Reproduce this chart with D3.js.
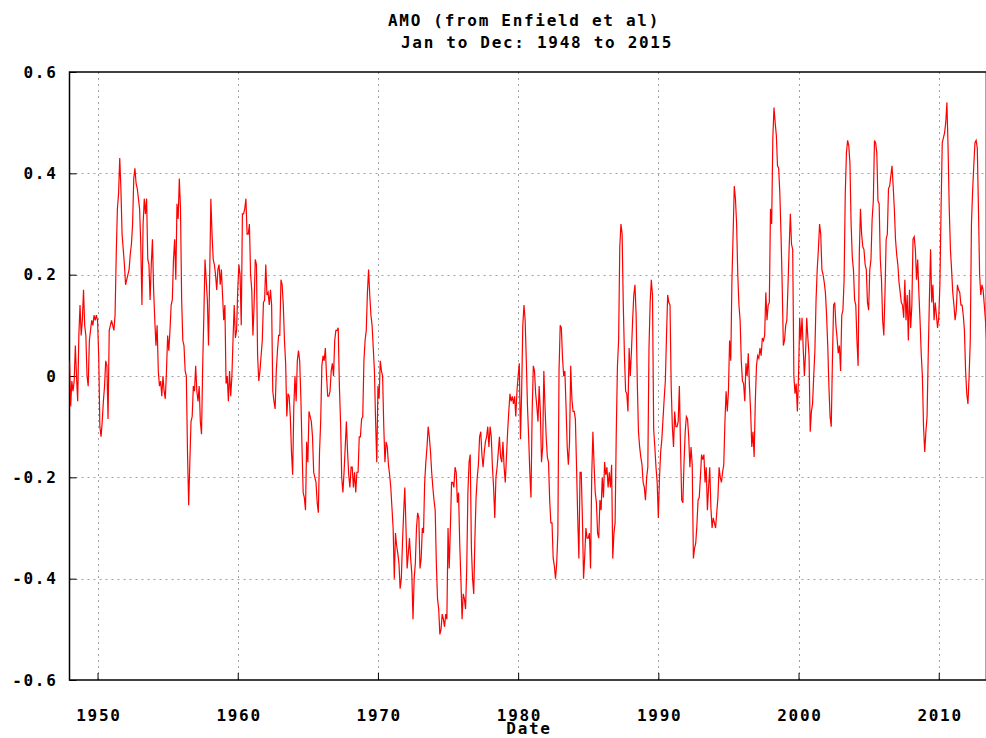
<!DOCTYPE html>
<html>
<head>
<meta charset="utf-8">
<script src="https://cdn.jsdelivr.net/npm/d3@7"></script>
<style>
  html, body { margin: 0; padding: 0; background: #fff; }
  svg { display: block; }
  text { font-family: "DejaVu Sans Mono", "Liberation Mono", monospace; font-weight: bold; fill: #000; }
</style>
</head>
<body>
<svg id="chart" width="986" height="738"></svg>
<script>
// ---------------- DATA ----------------
const titleLines = ["AMO (from Enfield et al)", "Jan to Dec: 1948 to 2015"];
const xLabel = "Date";
const startYear = 1948;
const xTicks = [1950, 1960, 1970, 1980, 1990, 2000, 2010];
const yTicks = [-0.6, -0.4, -0.2, 0, 0.2, 0.4, 0.6];
const yTickLabels = ["-0.6", "-0.4", "-0.2", "0", "0.2", "0.4", "0.6"];

// monthly AMO values, Jan 1948 onward, one decade per array
const amo1940s = [
  0.03, -0.06, -0.01, -0.03, -0.01, 0.06, 0.0, -0.05, 0.08, 0.14, 0.08, 0.11,
  0.17, 0.10, 0.08, 0.0, -0.02, 0.07, 0.09, 0.11, 0.10, 0.12, 0.11, 0.12
];
const amo1950s = [
  0.11, 0.04, -0.10, -0.12, -0.09, -0.05, -0.02, 0.03, 0.02, -0.085, 0.09, 0.10,
  0.11, 0.10, 0.09, 0.12, 0.24, 0.33, 0.36, 0.43, 0.37, 0.28, 0.25, 0.22,
  0.18, 0.19, 0.20, 0.21, 0.24, 0.26, 0.30, 0.39, 0.41, 0.38, 0.37, 0.35,
  0.33, 0.26, 0.14, 0.30, 0.35, 0.32, 0.35, 0.23, 0.22, 0.15, 0.22, 0.27,
  0.17, 0.11, 0.06, 0.10, 0.01, -0.02, -0.01, -0.04, 0.0, -0.03, -0.045, 0.01,
  0.08, 0.05, 0.09, 0.14, 0.15, 0.23, 0.27, 0.19, 0.34, 0.31, 0.39, 0.33,
  0.15, 0.07, 0.06, 0.01, 0.0, -0.15, -0.255, -0.17, -0.09, -0.08, -0.02, -0.03,
  0.02, -0.03, -0.05, -0.02, -0.09, -0.115, 0.02, 0.12, 0.23, 0.19, 0.15, 0.06,
  0.20, 0.35, 0.28, 0.23, 0.22, 0.20, 0.17, 0.21, 0.22, 0.18, 0.21, 0.16,
  0.11, 0.14, -0.015, 0.0, -0.05, 0.01, -0.04, 0.0, 0.075, 0.14, 0.075, 0.09
];
const amo1960s = [
  0.17, 0.22, 0.20, 0.10, 0.32, 0.32, 0.33, 0.35, 0.28, 0.28, 0.30, 0.20,
  0.17, 0.08, 0.14, 0.23, 0.22, 0.04, -0.01, 0.01, 0.04, 0.07, 0.145, 0.15,
  0.22, 0.16, 0.165, 0.14, 0.17, 0.14, -0.03, -0.05, -0.065, 0.01, 0.05, 0.08,
  0.08, 0.19, 0.18, 0.14, 0.07, 0.025, -0.08, -0.035, -0.04, -0.08, -0.15, -0.195,
  -0.06, 0.0, -0.05, 0.03, 0.05, 0.03, -0.04, -0.14, -0.23, -0.24, -0.265, -0.13,
  -0.17, -0.07, -0.08, -0.09, -0.12, -0.19, -0.20, -0.21, -0.25, -0.27, -0.15, -0.09,
  0.02, 0.04, 0.03, 0.055, 0.0, -0.04, -0.04, -0.03, 0.01, 0.025, 0.0, 0.07,
  0.09, 0.09, 0.095, -0.02, -0.09, -0.20, -0.23, -0.19, -0.14, -0.09, -0.15, -0.195,
  -0.22, -0.18, -0.18, -0.22, -0.19, -0.23, -0.19, -0.19, -0.12, -0.12, -0.085, -0.08,
  0.03, 0.07, 0.09, 0.165, 0.21, 0.16, 0.12, 0.10, 0.055, 0.01, -0.09, -0.17
];
const amo1970s = [
  -0.02, -0.045, 0.03, 0.01, 0.0, -0.10, -0.17, -0.13, -0.14, -0.175, -0.195, -0.22,
  -0.26, -0.30, -0.40, -0.31, -0.335, -0.35, -0.37, -0.42, -0.40, -0.33, -0.27, -0.22,
  -0.30, -0.38, -0.35, -0.32, -0.36, -0.39, -0.48, -0.40, -0.37, -0.30, -0.27, -0.28,
  -0.38, -0.36, -0.30, -0.31, -0.21, -0.17, -0.14, -0.10, -0.12, -0.15, -0.19, -0.22,
  -0.245, -0.265, -0.37, -0.44, -0.46, -0.51, -0.50, -0.47, -0.48, -0.495, -0.47, -0.48,
  -0.30, -0.38, -0.30, -0.21, -0.21, -0.22, -0.18, -0.19, -0.25, -0.23, -0.33, -0.40,
  -0.48, -0.43, -0.44, -0.46, -0.38, -0.23, -0.17, -0.155, -0.34, -0.40, -0.43, -0.32,
  -0.24, -0.20, -0.175, -0.12, -0.11, -0.155, -0.18, -0.15, -0.13, -0.12, -0.10, -0.14,
  -0.10, -0.12, -0.18, -0.22, -0.28, -0.20, -0.18, -0.15, -0.12, -0.16, -0.17, -0.13,
  -0.18, -0.21, -0.16, -0.11, -0.07, -0.035, -0.05, -0.04, -0.055, -0.04, -0.08, -0.03
];
const amo1980s = [
  0.0, 0.025, -0.125, -0.03, 0.10, 0.14, 0.11, 0.03, -0.06, -0.12, -0.19, -0.24,
  -0.07, 0.02, 0.01, -0.035, -0.06, -0.09, -0.02, -0.07, -0.17, -0.14, 0.01, -0.06,
  -0.12, -0.16, -0.17, -0.245, -0.29, -0.29, -0.36, -0.375, -0.40, -0.37, -0.31, 0.01,
  0.10, 0.095, 0.035, 0.0, 0.01, -0.06, -0.14, -0.175, -0.13, 0.02, -0.045, -0.07,
  -0.07, -0.085, -0.18, -0.28, -0.36, -0.19, -0.19, -0.28, -0.40, -0.355, -0.30, -0.32,
  -0.32, -0.31, -0.38, -0.195, -0.11, -0.175, -0.23, -0.25, -0.31, -0.32, -0.245, -0.265,
  -0.20, -0.24, -0.17, -0.195, -0.18, -0.22, -0.19, -0.22, -0.175, -0.36, -0.31, -0.29,
  -0.11, 0.02, 0.07, 0.255, 0.30, 0.28, 0.14, 0.04, -0.03, -0.035, -0.07, 0.055,
  0.0, 0.05, 0.11, 0.16, 0.18, 0.12, -0.015, -0.11, -0.14, -0.16, -0.175, -0.21,
  -0.22, -0.245, -0.20, -0.18, 0.055, 0.145, 0.19, 0.16, -0.105, -0.14, -0.18, -0.21
];
const amo1990s = [
  -0.28, -0.20, -0.15, -0.125, -0.085, -0.045, -0.01, 0.08, 0.16, 0.145, 0.14, -0.02,
  -0.10, -0.14, -0.07, -0.10, -0.10, -0.09, -0.02, -0.14, -0.245, -0.25, -0.17, -0.11,
  -0.08, -0.085, -0.12, -0.18, -0.14, -0.175, -0.36, -0.34, -0.33, -0.295, -0.245, -0.24,
  -0.20, -0.155, -0.165, -0.155, -0.21, -0.18, -0.265, -0.22, -0.18, -0.26, -0.30, -0.28,
  -0.29, -0.30, -0.27, -0.24, -0.18, -0.20, -0.21, -0.19, -0.175, -0.09, -0.03, -0.07,
  -0.03, 0.07, 0.03, 0.19, 0.28, 0.375, 0.35, 0.30, 0.20, 0.14, 0.11, 0.03,
  -0.01, -0.015, -0.05, 0.025, 0.0, 0.045, -0.02, -0.07, -0.14, -0.11, -0.16, -0.05,
  0.02, 0.04, 0.035, 0.055, 0.04, 0.075, 0.07, 0.08, 0.165, 0.11, 0.14, 0.145,
  0.33, 0.30, 0.47, 0.53, 0.50, 0.475, 0.415, 0.41, 0.36, 0.28, 0.18, 0.06,
  0.07, 0.10, 0.11, 0.18, 0.255, 0.32, 0.26, 0.25, 0.0, -0.035, -0.015, -0.07
];
const amo2000s = [
  0.0, 0.115, 0.07, 0.115, 0.055, 0.0, 0.045, 0.115, 0.075, 0.04, -0.11, -0.07,
  -0.055, 0.0, 0.05, 0.15, 0.21, 0.25, 0.30, 0.28, 0.21, 0.20, 0.185, 0.165,
  0.12, 0.06, -0.02, -0.08, -0.10, 0.03, 0.14, 0.145, 0.10, 0.075, 0.045, 0.06,
  0.01, 0.12, 0.13, 0.19, 0.36, 0.44, 0.465, 0.455, 0.42, 0.30, 0.235, 0.21,
  0.15, 0.14, 0.07, 0.02, 0.24, 0.33, 0.28, 0.255, 0.25, 0.22, 0.21, 0.145,
  0.13, 0.21, 0.23, 0.31, 0.345, 0.465, 0.46, 0.44, 0.345, 0.34, 0.23, 0.19,
  0.11, 0.08, 0.165, 0.27, 0.28, 0.37, 0.375, 0.395, 0.415, 0.375, 0.33, 0.27,
  0.24, 0.22, 0.185, 0.165, 0.145, 0.14, 0.115, 0.19, 0.11, 0.16, 0.07, 0.17,
  0.095, 0.14, 0.27, 0.275, 0.25, 0.19, 0.23, 0.165, 0.11, 0.045, 0.0, -0.10,
  -0.15, -0.11, -0.08, 0.04, 0.15, 0.25, 0.145, 0.18, 0.11, 0.145, 0.12, 0.095
];
const amo2010s = [
  0.115, 0.18, 0.33, 0.46, 0.47, 0.48, 0.50, 0.54, 0.45, 0.33, 0.25, 0.21,
  0.165, 0.14, 0.11, 0.13, 0.18, 0.17, 0.165, 0.14, 0.14, 0.12, 0.09, 0.01,
  -0.035, -0.055, 0.0, 0.07, 0.30, 0.365, 0.415, 0.46, 0.465, 0.45, 0.33, 0.20,
  0.16, 0.18, 0.17, 0.14, 0.11, 0.07, 0.24
];

// ---------------- CHART ----------------
const values = [].concat(amo1940s, amo1950s, amo1960s, amo1970s, amo1980s, amo1990s, amo2000s, amo2010s);
const series = values.map((v, i) => ({ t: startYear + i / 12, v }));

const W = 986, H = 738;
const pL = 69.5, pR = 986.4, pT = 72, pB = 680;
const FS = 16, LS = 1.7;
const FONT = '"DejaVu Sans Mono", monospace';

const x = d3.scaleLinear().domain([1948, 2013.4]).range([pL, pR]);
const y = d3.scaleLinear().domain([-0.6, 0.6]).range([pB, pT]);

const svg = d3.select("#chart");

svg.append("rect").attr("width", W).attr("height", H).attr("fill", "#fff");

svg.append("defs").append("clipPath").attr("id", "plotclip")
  .append("rect").attr("x", pL).attr("y", pT).attr("width", pR - pL).attr("height", pB - pT);

// grid
const grid = svg.append("g").attr("stroke", "#a0a0a0").attr("stroke-width", 1).attr("stroke-dasharray", "2,4");
grid.selectAll("line.h").data(yTicks.filter(d => d > -0.6 && d < 0.6)).join("line")
  .attr("x1", pL).attr("x2", pR)
  .attr("y1", d => Math.round(y(d)) + 0.5).attr("y2", d => Math.round(y(d)) + 0.5);
grid.selectAll("line.v").data(xTicks).join("line")
  .attr("y1", pT).attr("y2", pB)
  .attr("x1", d => Math.round(x(d)) + 0.5).attr("x2", d => Math.round(x(d)) + 0.5);

function styleText(sel) {
  sel.attr("font-size", FS).style("font-family", FONT).style("font-weight", "bold").style("letter-spacing", LS + "px");
}

// axes via d3 axis (inward ticks)
const yAxis = d3.axisLeft(y).tickValues(yTicks).tickFormat((d, i) => yTickLabels[i]).tickSizeInner(-7).tickSizeOuter(0).tickPadding(12);
const gy = svg.append("g").attr("transform", `translate(${pL},0)`).call(yAxis);
gy.select(".domain").remove();
styleText(gy.selectAll("text"));
gy.selectAll("line").attr("stroke", "#000");

const xAxis = d3.axisBottom(x).tickValues(xTicks).tickFormat(d3.format("d")).tickSizeInner(-7).tickSizeOuter(0).tickPadding(30);
const gx = svg.append("g").attr("transform", `translate(0,${pB})`).call(xAxis);
gx.select(".domain").remove();
styleText(gx.selectAll("text"));
gx.selectAll("text").attr("dx", LS / 2);
gx.selectAll("line").attr("stroke", "#000");

// frame
svg.append("rect").attr("x", pL).attr("y", pT).attr("width", pR - pL).attr("height", pB - pT)
  .attr("fill", "none").attr("stroke", "#000").attr("stroke-width", 1.5);

// data line
const line = d3.line().x(d => x(d.t)).y(d => y(d.v));
svg.append("path").datum(series)
  .attr("clip-path", "url(#plotclip)")
  .attr("fill", "none").attr("stroke", "#ff0000").attr("stroke-width", 1.2)
  .attr("stroke-linejoin", "miter")
  .attr("d", line);

// titles
styleText(svg.append("text").attr("x", 524).attr("y", 26).attr("text-anchor", "middle").text(titleLines[0]));
styleText(svg.append("text").attr("x", 537).attr("y", 48).attr("text-anchor", "middle").text(titleLines[1]));
styleText(svg.append("text").attr("x", 529).attr("y", 734).attr("text-anchor", "middle").text(xLabel));
</script>
</body>
</html>
